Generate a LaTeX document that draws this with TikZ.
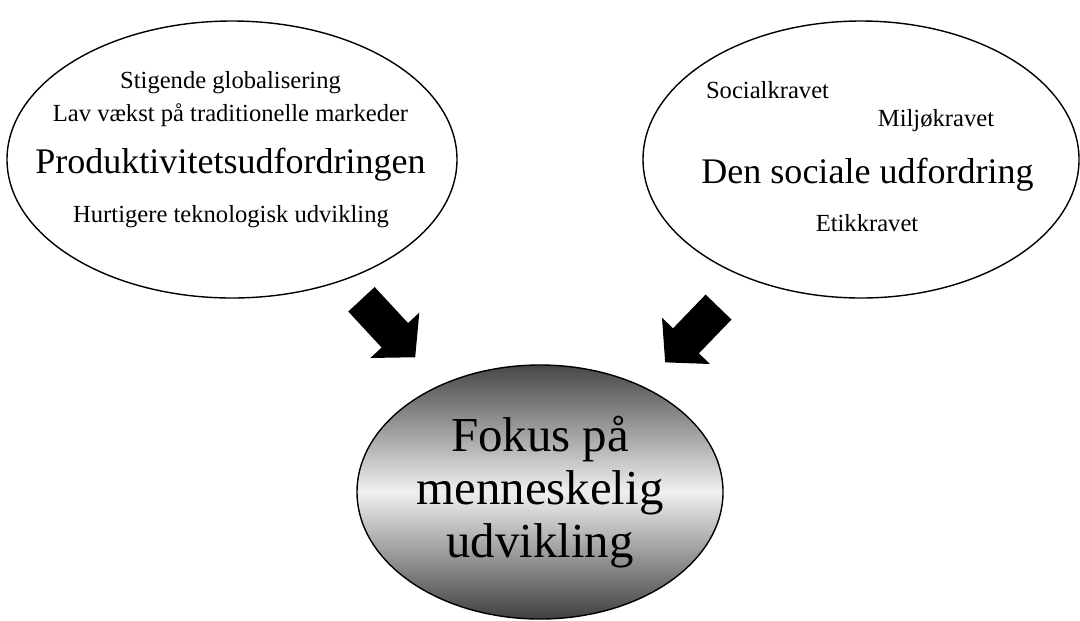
\documentclass[tikz,border=0pt]{standalone}
\usepackage{fontspec}
\setmainfont{Liberation Serif}
\usepackage{tikz}
\usetikzlibrary{shapes.geometric, arrows.meta, positioning}

\begin{document}
\begin{tikzpicture}[
        ringnode/.style={ellipse, draw=black, line width=0.8pt, inner sep=0pt, outer sep=0pt},
        smalltext/.style={font=\fontsize{14}{17}\selectfont, inner sep=0pt},
        titletext/.style={font=\fontsize{20.5}{24}\selectfont, inner sep=0pt},
        focusnode/.style={ellipse, draw=black, line width=0.8pt, inner sep=0pt, outer sep=0pt, top color=black!72, bottom color=black!75, middle color=black!6, align=center, font=\fontsize{27.8}{30.2}\selectfont},
        bigarrow/.style={-{Triangle[width=1.3cm, length=0.6cm]}, line width=0.72cm, color=black}
    ]
        \useasboundingbox (0,0) rectangle (21.6,-12.4);

        % Left ellipse
        \node[ringnode, minimum width=9.0cm, minimum height=5.54cm] (prod) at (4.64,-3.19) {};
        \node[smalltext] (glob) at (4.61,-1.66) {Stigende globalisering};
        \node[smalltext] (vaekst) at (4.61,-2.30) {Lav vækst på traditionelle markeder};
        \node[titletext] (prodtitle) at (4.61,-3.30) {Produktivitetsudfordringen};
        \node[smalltext] (tekno) at (4.62,-4.34) {Hurtigere teknologisk udvikling};

        % Right ellipse
        \node[ringnode, minimum width=8.72cm, minimum height=5.54cm] (social) at (17.22,-3.19) {};
        \node[smalltext] (socialkrav) at (15.35,-1.80) {Socialkravet};
        \node[smalltext] (miljokrav) at (18.72,-2.42) {Miljøkravet};
        \node[titletext] (socialtitle) at (17.35,-3.50) {Den sociale udfordring};
        \node[smalltext] (etikkrav) at (17.34,-4.46) {Etikkravet};

        % Bottom ellipse
        \node[focusnode, minimum width=7.32cm, minimum height=5.08cm] (fokus) at (10.8,-9.84) {Fokus på\\menneskelig\\udvikling};

        % Block arrows
        \draw[bigarrow, shorten <=0.53cm, shorten >=0.76cm] (prod) -- (fokus);
        \draw[bigarrow, shorten <=0.82cm, shorten >=0.67cm] (social) -- (fokus);
    \end{tikzpicture}
\end{document}
